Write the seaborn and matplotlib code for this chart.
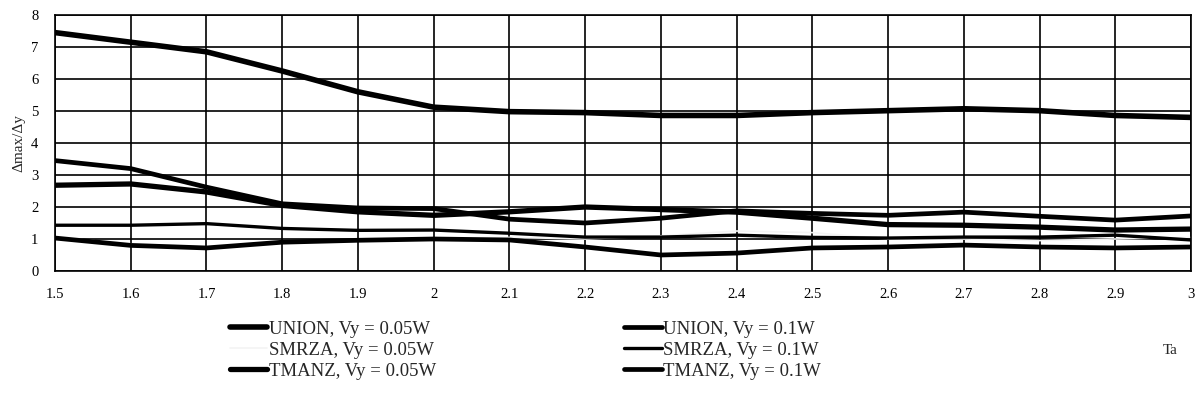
import numpy as np
import pandas as pd
import matplotlib
matplotlib.use("Agg")
import matplotlib.pyplot as plt
import seaborn as sns

ta = [1.5, 1.6, 1.7, 1.8, 1.9, 2.0, 2.1, 2.2, 2.3, 2.4, 2.5, 2.6, 2.7, 2.8, 2.9, 3.0]

union_005 = [7.45, 7.15, 6.85, 6.25, 5.6, 5.12, 4.98, 4.95, 4.86, 4.86, 4.95, 5.01, 5.07, 5.01, 4.86, 4.8]
union_01 = [3.45, 3.2, 2.62, 2.1, 1.97, 1.95, 1.62, 1.5, 1.65, 1.88, 1.8, 1.74, 1.84, 1.71, 1.59, 1.72]
smrza_005 = [1.05, 0.85, 0.75, 0.88, 0.97, 1.02, 1.05, 1.0, 1.1, 1.25, 1.2, 1.0, 1.0, 0.95, 1.0, 1.05]
smrza_01 = [1.43, 1.43, 1.48, 1.33, 1.27, 1.28, 1.18, 1.06, 1.06, 1.12, 1.05, 1.03, 1.06, 1.06, 1.12, 0.97]
tmanz_005 = [2.68, 2.72, 2.47, 2.05, 1.85, 1.74, 1.85, 2.0, 1.92, 1.84, 1.65, 1.45, 1.43, 1.37, 1.28, 1.31]
tmanz_01 = [1.03, 0.8, 0.72, 0.9, 0.96, 1.0, 0.97, 0.75, 0.5, 0.56, 0.72, 0.75, 0.81, 0.75, 0.72, 0.75]

labels = ["UNION, Vy = 0.05W", "UNION, Vy = 0.1W", "SMRZA, Vy = 0.05W",
          "SMRZA, Vy = 0.1W", "TMANZ, Vy = 0.05W", "TMANZ, Vy = 0.1W"]
series = [union_005, union_01, smrza_005, smrza_01, tmanz_005, tmanz_01]
colors = ["black", "black", "#f4f4f4", "black", "black", "black"]
widths = [4.0, 3.4, 1.2, 2.4, 3.8, 3.4]

sns.set_theme(style="white")
plt.rcParams["font.family"] = ["Liberation Serif", "DejaVu Serif"]

fig = plt.figure(figsize=(12.01, 4.04), dpi=100)
ax = fig.add_axes([55 / 1201, 1 - 271 / 404, (1191 - 55) / 1201, (271 - 15) / 404])

handles = {}
for lab, vals, c, w in zip(labels, series, colors, widths):
    sns.lineplot(x=ta, y=vals, ax=ax, color=c, linewidth=w, label=lab, legend=False)
    handles[lab] = ax.lines[-1]

ax.set_xlim(1.5, 3.0)
ax.set_ylim(0, 8)
ax.set_xticks(ta)
ax.set_xticklabels(["1.5", "1.6", "1.7", "1.8", "1.9", "2", "2.1", "2.2", "2.3", "2.4",
                    "2.5", "2.6", "2.7", "2.8", "2.9", "3"])
ax.set_yticks(range(0, 9))
ax.grid(True, color="black", linewidth=1.2)
ax.set_axisbelow(True)
for s in ax.spines.values():
    s.set_color("black")
    s.set_linewidth(1.2)
ax.tick_params(axis="both", direction="inout", length=6, width=1.2, colors="black",
               labelsize=10.5, pad=9)
ax.set_ylabel("Δmax/Δy", fontsize=11, labelpad=4)
ax.set_xlabel("")
fig.text(1170 / 1201, 1 - 350 / 404, "Ta", fontsize=11, ha="center", va="center")

order = [labels[0], labels[2], labels[4], labels[1], labels[3], labels[5]]
leg = fig.legend([handles[l] for l in order], order, ncol=2, loc="upper left",
                 bbox_to_anchor=(213 / 1201, 1 - 304 / 404), frameon=False,
                 fontsize=13.5, handlelength=2.0, handletextpad=0.1,
                 columnspacing=10.0, labelspacing=0.2)

fig.savefig("out.png", dpi=100)
